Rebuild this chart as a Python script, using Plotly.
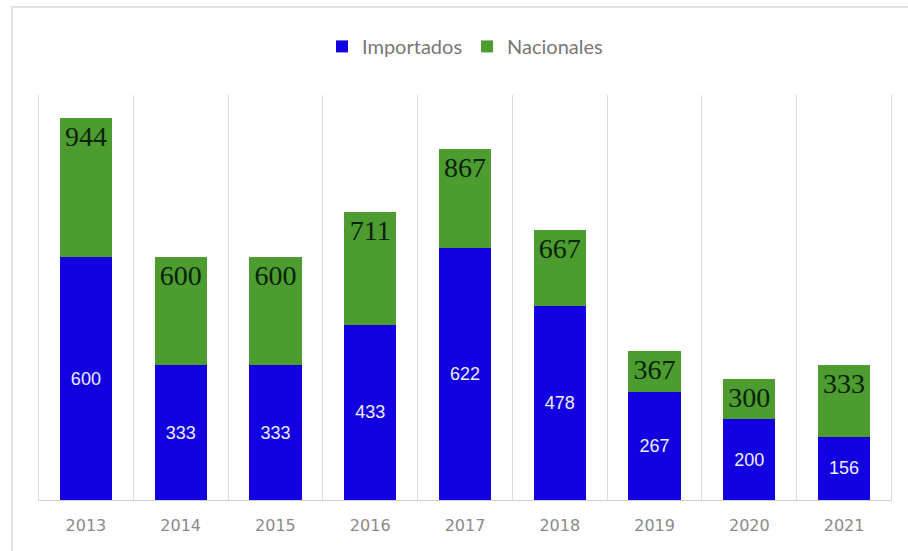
import plotly.graph_objects as go

years = ["2013", "2014", "2015", "2016", "2017", "2018", "2019", "2020", "2021"]
importados = [600, 333, 333, 433, 622, 478, 267, 200, 156]
nacionales = [344, 267, 267, 278, 245, 189, 100, 100, 177]
totales = [a + b for a, b in zip(importados, nacionales)]

BLUE = "#1200e0"
GREEN = "#4c9c30"

fig = go.Figure()
fig.add_trace(go.Bar(
    x=years, y=importados, name="Importados",
    marker=dict(color=BLUE, line=dict(width=0)),
    text=[str(v) for v in importados], textposition="inside",
    insidetextanchor="middle",
    textfont=dict(family="Liberation Sans, Arial, sans-serif", size=18, color="#eeeeff"),
))
fig.add_trace(go.Bar(
    x=years, y=nacionales, name="Nacionales",
    marker=dict(color=GREEN, line=dict(width=0)),
    text=[str(v) for v in totales], textposition="inside",
    insidetextanchor="end",
    textfont=dict(family="Liberation Serif, Times New Roman, serif", size=28, color="#0b220b"),
))

edge_lines = [dict(type="line", xref="x", yref="paper", x0=x, x1=x, y0=0, y1=1,
                   line=dict(color="#dcdcdc", width=1), layer="below")
              for x in (-0.5, len(years) - 0.5)]

fig.update_layout(
    barmode="stack",
    bargap=0.45,
    width=908, height=551,
    margin=dict(l=38, r=16, t=95, b=51),
    paper_bgcolor="white", plot_bgcolor="white",
    showlegend=True,
    legend=dict(orientation="h", x=0.5, xanchor="center", y=1.12, yanchor="middle",
                font=dict(family="Lato, sans-serif", size=20, color="#777777"),
                traceorder="normal"),
    xaxis=dict(
        type="category", tickson="boundaries", showgrid=True, gridcolor="#dcdcdc", gridwidth=1,
        showline=True, linecolor="#d0d0d0", linewidth=1,
        ticks="", ticklabelstandoff=11,
        tickfont=dict(family="DejaVu Sans, sans-serif", size=16, color="#8a8a8a"),
        fixedrange=True,
    ),
    yaxis=dict(range=[0, 1000], showgrid=False, showticklabels=False, zeroline=False,
               showline=False, fixedrange=True),
    shapes=edge_lines + [dict(type="rect", xref="paper", yref="paper",
                 x0=(12 - 38) / 854, x1=(915 - 38) / 854,
                 y0=(500 - 560) / 405, y1=1 + (95 - 7) / 405,
                 line=dict(color="#e2e2e2", width=2), fillcolor="rgba(0,0,0,0)", layer="below")],
)

fig.write_html("out.html")
